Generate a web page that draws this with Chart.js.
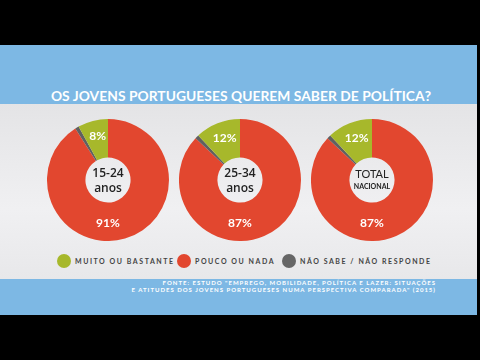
<!DOCTYPE html>
<html>
<head>
<meta charset="utf-8">
<script src="https://cdn.jsdelivr.net/npm/chart.js@4"></script>
<style>
  html, body { margin:0; padding:0; width:480px; height:360px; background:#000; overflow:hidden; font-family:Lato, 'Open Sans', sans-serif; }
  #band { position:absolute; left:0; top:45px; width:477px; height:270px; background:#7db8e4; }
  #panel { position:absolute; left:0; top:104px; width:477px; height:175px; background:linear-gradient(#e4e4e6, #f0f0f2 60%, #e8e8ea); }
  #title { position:absolute; left:0; width:482px; top:87px; text-align:center; color:#fff; font-weight:700; font-size:13.8px; letter-spacing:0.05px; }
  .donut { position:absolute; width:122px; height:122px; }
  .center { position:absolute; width:60px; text-align:center; color:#222; font-family:'Open Sans', sans-serif; font-weight:600; }
  .legend { position:absolute; top:254px; display:flex; align-items:center; color:#444; font-weight:700; font-size:7px; letter-spacing:1.55px; white-space:nowrap; }
  .legend i { display:inline-block; width:14px; height:14px; border-radius:50%; margin-right:4px; }
  #source { position:absolute; right:44px; top:279px; text-align:right; color:#fff; font-weight:700; font-size:6px; letter-spacing:1.0px; line-height:7px; white-space:nowrap; }
</style>
</head>
<body>
<div id="band"></div>
<div id="panel"></div>
<div id="title">OS JOVENS PORTUGUESES QUEREM SABER DE POLÍTICA?</div>

<div class="donut" style="left:47px;top:119px"><canvas id="c0"></canvas></div>
<div class="donut" style="left:179px;top:119px"><canvas id="c1"></canvas></div>
<div class="donut" style="left:311px;top:119px"><canvas id="c2"></canvas></div>

<div class="center" style="left:78px;top:165px;font-size:12px;line-height:15px">15-24<br>anos</div>
<div class="center" style="left:210px;top:165px;font-size:12px;line-height:15px">25-34<br>anos</div>
<div class="center" style="left:342px;top:168px;font-family:Lato,sans-serif;font-weight:400;font-size:11px;line-height:11px">TOTAL<br><span style="font-size:7px;font-weight:700">NACIONAL</span></div>

<div class="legend" style="left:57px"><i style="background:#a7b82b"></i>MUITO OU BASTANTE</div>
<div class="legend" style="left:177px"><i style="background:#e2472f"></i>POUCO OU NADA</div>
<div class="legend" style="left:282px"><i style="background:#666"></i>NÃO SABE / NÃO RESPONDE</div>

<div id="source">FONTE: ESTUDO "EMPREGO, MOBILIDADE, POLÍTICA E LAZER: SITUAÇÕES<br>E ATITUDES DOS JOVENS PORTUGUESES NUMA PERSPECTIVA COMPARADA" (2015)</div>

<script>
// categories in clockwise order from 12 o'clock
const categories = ['Pouco ou nada', 'Não sabe / não responde', 'Muito ou bastante'];
const colors = ['#e2472f', '#606060', '#a7b82b'];

const groups = ['15-24 anos', '25-34 anos', 'Total nacional'];
const jovens15_24 = [91, 1, 8];
const jovens25_34 = [87, 1, 12];
const totalNacional = [87, 1, 12];
const series = [jovens15_24, jovens25_34, totalNacional];

// draws the percentage labels inside the slices
const sliceLabels = {
  id: 'sliceLabels',
  afterDatasetsDraw(chart) {
    const ctx = chart.ctx;
    const meta = chart.getDatasetMeta(0);
    const values = chart.data.datasets[0].data;
    ctx.save();
    ctx.fillStyle = '#fff';
    ctx.font = '700 12px Lato, sans-serif';
    ctx.textAlign = 'center';
    ctx.textBaseline = 'middle';
    meta.data.forEach((arc, i) => {
      if (values[i] < 5) return;
      const r = (arc.innerRadius + arc.outerRadius) / 2;
      let x, y;
      if (i === 0) {
        // big slice: label straight below the hole
        x = arc.x;
        y = arc.y + r + 1;
      } else {
        const p = arc.tooltipPosition();
        x = p.x;
        y = p.y - 3;
      }
      ctx.fillText(values[i] + '%', x, y);
    });
    ctx.restore();
  }
};

series.forEach((vals, k) => {
  new Chart(document.getElementById('c' + k), {
    type: 'doughnut',
    data: {
      labels: categories,
      datasets: [{
        label: groups[k],
        data: vals,
        backgroundColor: colors,
        borderWidth: 0
      }]
    },
    options: {
      responsive: true,
      maintainAspectRatio: true,
      animation: false,
      cutout: '37%',
      layout: { padding: 0 },
      plugins: {
        legend: { display: false },
        tooltip: { enabled: false }
      }
    },
    plugins: [sliceLabels]
  });
});
</script>
</body>
</html>
